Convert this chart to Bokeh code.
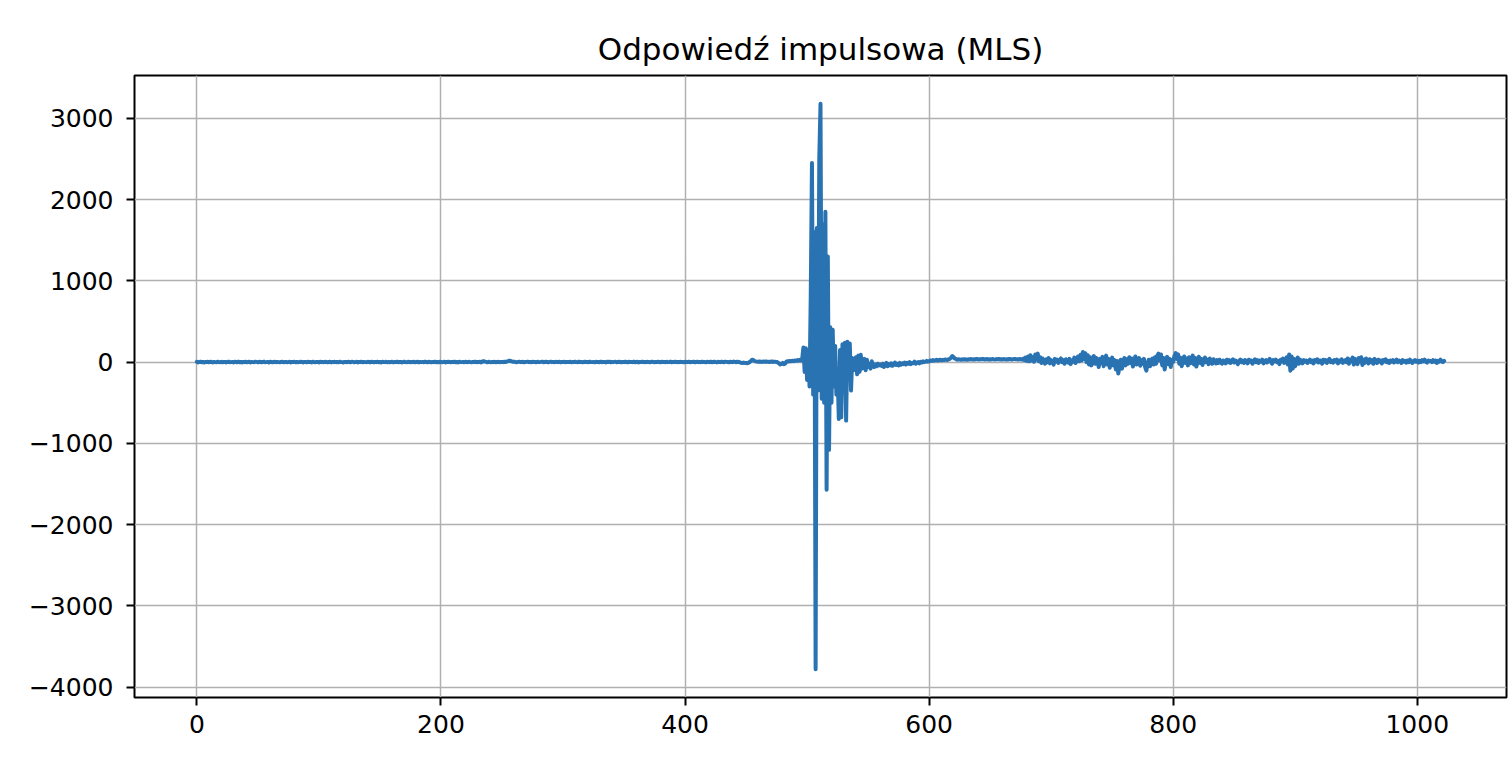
import numpy as np
from bokeh.plotting import figure
from bokeh.models import Range1d, FixedTicker
from bokeh.embed import file_html
from bokeh.resources import INLINE

title_text = "Odpowiedź impulsowa (MLS)"
x_ticks = [0, 200, 400, 600, 800, 1000]
y_ticks = [-4000, -3000, -2000, -1000, 0, 1000, 2000, 3000]

# samples 0..249
seg_a = [
    4, -3, 2, 6, -1, 3, -5, 2, 0, 4, -2, 5, 1, -4, 3, 0, -3, 6, 2, -1, 4, -2, 1, 3, -4,
    2, 5, -1, 0, 3, -3, 4, 1, -2, 6, -1, 2, -4, 3, 0, 5, -2, 1, 4, -3, 2, 0, -1, 5, 3,
    -2, 4, 1, -3, 2, 6, -1, 0, 3, -4, 5, 2, -2, 1, 4, -1, 3, 0, -3, 2, 5, -2, 1, 3, -1,
    0, 4, -3, 2, 1, 5, -2, 3, -1, 0, 4, 2, -4, 3, 1, -2, 5, 0, 2, -3, 4, 1, -1, 3, 2,
    -3, 5, 0, 2, -1, 4, 3, -2, 1, 6, -3, 2, 0, 4, -1, 3, -2, 5, 1, 0, -4, 3, 2, -1, 4,
    1, -2, 5, 3, -1, 0, 4, -3, 2, 1, 5, -2, 3, 0, -1, 4, 2, -3, 6, 1, -2, 3, 0, 4, -1,
    2, -3, 4, 1, 0, 5, -2, 3, -1, 2, 4, -3, 1, 0, 5, -1, 2, 3, -4, 1, 4, 0, -2, 5, 2,
    -1, 3, 0, 4, -2, 1, 6, -3, 2, 0, 3, -1, 5, 2, -2, 4, 1, -3, 3, 0, 5, -1, 2, -2, 4,
    3, -1, 0, 5, -3, 2, 4, 1, -2, 3, 0, 6, -1, 2, -3, 4, 1, 0, 3, -2, 5, 2, -1, 4, 0,
    -2, 3, 1, 5, -1, 2, 0, 4, -3, 8, 12, 6, 3, -2, 4, 1, -1, 3, 0, 5, -2, 2, 4, -1, 1,
]
# samples 250..449
seg_b = [
    3, 0, 5, 2, 7, 12, 18, 14, 9, 4, 6, 2, -1, 3, 5, 0, 2, 4, -2, 1, 3, 6, 0, 2, -1,
    4, 1, 3, -2, 5, 2, 0, 3, 6, -1, 2, 4, 1, -3, 3, 5, 0, 2, -1, 4, 3, 0, 5, -2, 2,
    1, 4, -1, 3, 2, 0, 5, -2, 3, 1, 4, 0, -1, 6, 2, 3, -2, 1, 4, 0, 3, -1, 5, 2, 0,
    3, -2, 4, 1, 2, -1, 5, 0, 3, 2, -3, 4, 1, 6, -1, 2, 0, 3, 5, -2, 1, 4, 2, -1, 3,
    0, 5, 2, -2, 4, 1, 3, 0, 6, -1, 2, 4, -3, 3, 1, 5, 0, 2, -1, 4, 3, -2, 2, 6, 1,
    -1, 3, 0, 4, 2, -2, 5, 1, 3, -1, 4, 0, 2, 6, -2, 3, 1, 5, 0, 2, -1, 4, 3, 1, -2,
    4, 2, 0, 5, -1, 3, 1, 6, -2, 2, 4, 0, 3, -1, 5, 2, 1, -3, 4, 3, 0, 6, -1, 2, 5,
    1, -2, 4, 3, 0, 5, 2, -1, 6, 3, 1, -2, 4, 2, 0, 7, 3, -1, 5, 2, -3, -8, -12, -6, -10,
]
# samples 450..494
seg_c = [
    -10, -14, -8, 2, 15, 30, 24, 14, 8, 6, 3, 8, 5, 2, 7, 4, 9, 3, 6, 1, 5, 8, 2, 6, 4,
    3, -5, -15, -28, -22, -10, -26, -20, 5, 12, 8, 15, 10, 18, 12, 20, 14, 25, 18, 30,
]
# samples 495..560 (main impulse)
seg_d = [
    20, 40, 180, -120, 170, -220, 150, -300, 800, 2450,
    -400, 1600, -3780, 1650, -350, 2500, 3180, -450, 1700, -500,
    1850, -1570, 1300, -1080, 430, -500, 400, -300, 200, -400,
    -150, -700, 150, -680, 220, -350, 240, -720, 250, -200,
    230, -350, 50, -100, -60, 60, -150, 80, -120, 90,
    -80, -50, 40, -100, 30, -60, -20, -80, 10, -40,
    -60, -30, -50, -20, -40, -30,
]
# samples 561..1022
seg_e = [
    -45, -20, -60, -35, -10, -50, -25, -40, -15, -45, -30, -5, -35, -20, -40, -10, -30, -15, -25, -5, -30, -10, -20, 0, -25,
    -10, -15, 5, -20, -5, 0, -15, 5, -5, 10, 0, 5, 15, 5, 10, 20, 15, 25, 18, 22, 28, 20, 25, 30, 22,
    28, 25, 32, 30, 26, 35, 40, 55, 75, 60, 45, 38, 30, 35, 32, 28, 34, 30, 36, 33, 29, 35, 31, 38, 34,
    30, 36, 33, 39, 35, 31, 37, 34, 40, 36, 32, 38, 35, 30, 36, 33, 38, 34, 31, 37, 35, 39, 33, 36, 32,
    38, 34, 30, 36, 33, 39, 35, 31, 37, 40, 34, 36, 32, 38, 35, 30, 42, 25, 55, 15, 70, 10, 85, 20, 60,
    5, 95, 30, 105, 10, 60, -10, 45, 20, -20, 35, 0, 50, -15, 25, 10, -30, 40, 5, 30, -10, 20, 45, 0, 25,
    -20, 35, 10, -5, 40, -25, 20, 5, 55, -10, 30, 70, 10, 90, 20, 125, 40, 110, 0, 85, -30, 60, -40, 30, 75,
    -20, 50, 10, -60, 40, -10, 65, -50, 20, 80, -30, 40, -70, 10, 55, -40, 25, -90, 15, -140, -60, 30, -80, 20, 50,
    -40, 35, -20, 60, -10, 45, -55, 20, 70, -30, 10, 50, -45, 25, -20, 40, -60, -105, -20, 30, -50, 15, 45, -30, 60,
    -20, 80, 105, 20, 95, -40, 50, -90, 10, 65, -25, 40, -60, 30, 5, 75, 110, 40, 95, -20, 55, -50, 30, 70, -10,
    45, -40, 60, -15, 35, 80, -30, 50, -55, 20, 65, -10, 40, -35, 25, 55, 0, 30, -25, 45, 10, -20, 35, 15, -15,
    25, -10, 30, 5, -20, 20, 10, -15, 30, 0, 25, -10, 15, 35, -5, 20, 5, -25, 15, 30, 0, 20, -10, 25, 10,
    -15, 30, 5, 20, -20, 15, 35, 0, 25, -10, 20, 5, 30, -15, 10, 25, -5, 20, 40, 5, -20, 25, 10, 30, 0,
    15, -25, 30, 10, 45, -10, 25, 60, -30, 95, -105, 70, -80, 40, -50, 20, 55, -20, 30, 10, -15, 25, 5, 20, -10,
    15, 30, 0, 20, -15, 25, 10, 35, -5, 20, 15, -20, 30, 5, 25, -10, 20, 40, 0, 15, -5, 25, 10, 30, -15,
    20, 5, 35, -10, 15, 25, 0, 45, -20, 30, 10, 55, -30, 40, 15, -25, 50, 5, 60, -35, 30, -10, 45, 20, -15,
    35, 0, 25, -20, 40, 10, -10, 30, 5, 20, -15, 25, 10, 35, 0, 15, -10, 20, 5, 25, -5, 15, 30, 0, 20,
    10, -10, 25, 5, 15, -5, 20, 0, 30, 10, -10, 15, 25, 5, 20, -5, 15, 0, 25, 10, 30, 5, -5, 20, 10,
    15, 0, 25, 5, 20, -10, 15, 5, 30, 10, 0, 15,
]

y = np.array(seg_a + seg_b + seg_c + seg_d + seg_e, dtype=float)
x = np.arange(len(y))

xpad = 0.05 * (x[-1] - x[0])
ypad = 0.05 * (y.max() - y.min())

FONT = "DejaVu Sans"

p = figure(
    width=1508, height=755,
    output_backend="svg", toolbar_location=None,
    x_range=Range1d(x[0] - xpad, x[-1] + xpad),
    y_range=Range1d(y.min() - ypad, y.max() + ypad),
    min_border_left=134, min_border_right=2, min_border_top=75, min_border_bottom=58,
    title=title_text,
)
p.background_fill_color = "white"
p.border_fill_color = "white"
p.outline_line_color = "black"
p.outline_line_width = 2

p.title.align = "center"
p.title.text_font = FONT
p.title.text_font_size = "31px"
p.title.text_font_style = "normal"
p.title.text_color = "black"
p.title.standoff = 17

p.xaxis.ticker = FixedTicker(ticks=x_ticks)
p.yaxis.ticker = FixedTicker(ticks=y_ticks)
p.yaxis.major_label_overrides = {t: (("\u2212" + str(-t)) if t < 0 else str(t)) for t in y_ticks}

for ax in (p.xaxis[0], p.yaxis[0]):
    ax.axis_line_color = None
    ax.major_tick_line_color = "black"
    ax.major_tick_line_width = 2
    ax.major_tick_out = 8
    ax.major_tick_in = 0
    ax.minor_tick_line_color = None
    ax.major_label_text_font = FONT
    ax.major_label_text_font_size = "25px"
    ax.major_label_text_color = "black"
p.xaxis.major_label_standoff = 9
p.yaxis.major_label_standoff = 13

for g in (p.xgrid[0], p.ygrid[0]):
    g.grid_line_color = "#b0b0b0"
    g.grid_line_width = 1.5

p.line(x, y, line_width=4, line_color="#2a73b3", line_join="round", line_cap="round")

open("out.html", "w").write(file_html(p, INLINE))
